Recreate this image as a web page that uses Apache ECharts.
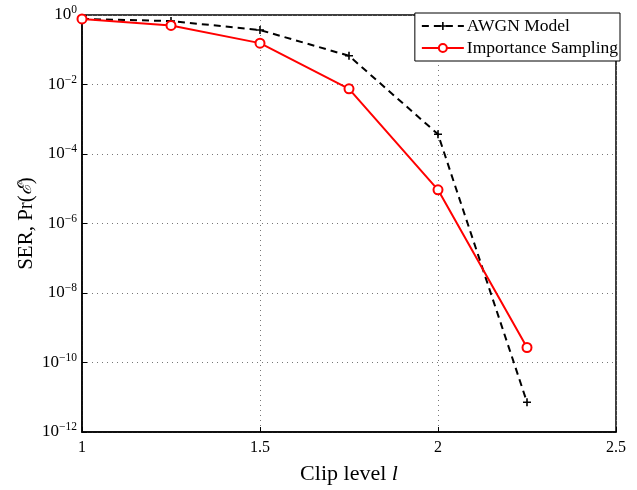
<!DOCTYPE html>
<html><head><meta charset="utf-8">
<script src="https://cdn.jsdelivr.net/npm/echarts@6/dist/echarts.min.js"></script>
<style>html,body{margin:0;padding:0;background:#fff}#c{width:637px;height:490px}</style>
</head><body><div id="c"></div>
<script>
const clipLevels = [1, 1.25, 1.5, 1.75, 2, 2.25];
const awgnModel = [0.77, 0.67, 0.37, 0.067, 3.7e-4, 7.2e-12];
const importanceSampling = [0.77, 0.50, 0.155, 0.0075, 9.3e-6, 2.7e-10];
const xTicks = [1, 1.5, 2, 2.5];
const seriesNames = ['AWGN Model', 'Importance Sampling'];

const font = 'Liberation Serif';
const chart = echarts.init(document.getElementById('c'), null, {renderer: 'canvas'});
const plusPath = 'path://M4,0 L6,0 L6,4 L10,4 L10,6 L6,6 L6,10 L4,10 L4,6 L0,6 L0,4 L4,4 Z';

chart.setOption({
  backgroundColor: '#fff',
  animation: false,
  grid: {left: 82, right: 21, top: 15, bottom: 55, show: true, borderColor: '#000', borderWidth: 1.5, backgroundColor: 'transparent'},
  legend: {
    right: 17, top: 13, orient: 'vertical',
    data: seriesNames,
    backgroundColor: '#fff', borderColor: '#000', borderWidth: 1,
    padding: [4, 2, 4, 6], itemGap: 4, itemWidth: 42, itemHeight: 10,
    textStyle: {fontFamily: font, fontSize: 17.5, color: '#000', padding: [0, 0, 0, -2]}
  },
  xAxis: {
    type: 'value', min: 1, max: 2.5, interval: 0.5,
    axisLine: {lineStyle: {color: '#000', width: 1.5}},
    axisTick: {inside: true, length: 5, lineStyle: {color: '#000'}},
    axisLabel: {fontFamily: font, fontSize: 16, color: '#000', margin: 8,
      formatter: v => xTicks.includes(+v.toFixed(2)) ? String(+v.toFixed(2)) : ''},
    splitLine: {show: true, lineStyle: {color: '#777', type: [1, 4], width: 1}},
    name: '{a|Clip level }{b|l}', nameLocation: 'middle', nameGap: 31, nameMoveOverlap: false,
    nameTextStyle: {rich: {
      a: {fontFamily: font, fontSize: 22, color: '#000'},
      b: {fontFamily: font, fontSize: 22, color: '#000', fontStyle: 'italic'}
    }}
  },
  yAxis: {
    type: 'log', logBase: 10, min: 1e-12, max: 1, interval: 2,
    axisLine: {lineStyle: {color: '#000', width: 1.5}},
    axisTick: {inside: true, length: 5, lineStyle: {color: '#000'}},
    minorTick: {show: false},
    axisLabel: {
      margin: 5, color: '#000',
      formatter: v => {
        const e = Math.round(Math.log10(v));
        return '{b|10}{s|' + (e < 0 ? '\u2212' + (-e) : e) + '}';
      },
      rich: {
        b: {fontFamily: font, fontSize: 17, color: '#000'},
        s: {fontFamily: font, fontSize: 11.5, color: '#000', verticalAlign: 'bottom', padding: [0, 0, 10, 0]}
      }
    },
    splitLine: {show: true, lineStyle: {color: '#777', type: [1, 4], width: 1}},
    name: '{a|SER, Pr(}{e|\u2130}{a|)}', nameLocation: 'middle', nameGap: 45, nameRotate: 90, nameMoveOverlap: false,
    nameTextStyle: {rich: {
      a: {fontFamily: font, fontSize: 21, color: '#000'},
      e: {fontFamily: 'DejaVu Serif', fontSize: 19, color: '#000', fontStyle: 'italic'}
    }}
  },
  series: [
    {
      name: seriesNames[0], type: 'line',
      data: clipLevels.map((x, i) => [x, awgnModel[i]]),
      lineStyle: {color: '#000', width: 2, type: [7, 5]},
      itemStyle: {color: '#000'},
      symbol: plusPath, symbolSize: 8, showAllSymbol: true, z: 3
    },
    {
      name: seriesNames[1], type: 'line',
      data: clipLevels.map((x, i) => [x, importanceSampling[i]]),
      lineStyle: {color: '#ff0000', width: 2},
      itemStyle: {color: '#ff0000', borderColor: '#ff0000', borderWidth: 2},
      symbol: 'emptyCircle', symbolSize: 9, showAllSymbol: true, z: 4
    }
  ]
});
</script></body></html>
